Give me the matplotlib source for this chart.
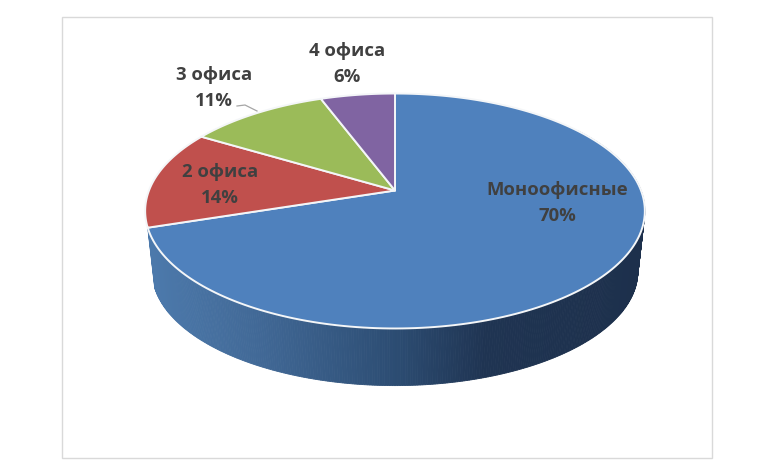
import numpy as np
import matplotlib
matplotlib.use("Agg")
import matplotlib.pyplot as plt
from matplotlib.patches import Polygon, Rectangle
from matplotlib.colors import LinearSegmentedColormap

categories = ["Моноофисные", "2 офиса", "3 офиса", "4 офиса"]
values = [70.0, 13.6, 10.7, 5.7]
percent_labels = ["70%", "14%", "11%", "6%"]
colors = ["#4F81BD", "#C0504D", "#9BBB59", "#8064A2"]
label_pos = [(557, 203), (220, 185), (214, 88), (347, 64)]

W, H = 780, 477
fig = plt.figure(figsize=(W / 100, H / 100), dpi=100, facecolor="white")
ax = fig.add_axes([0, 0, 1, 1])
ax.set_xlim(0, W)
ax.set_ylim(H, 0)
ax.axis("off")

ax.add_patch(Rectangle((61.5, 17.5), 650.5, 441.5, fc="white", ec="#D9D9D9", lw=1))

# perspective projection of a tilted disc; angle is clockwise from 12 o'clock
CX, CY, A, B, K = 395.0, 191.5, 246.0, 113.9, 0.1745
BOTTOM_SCALE, BOTTOM_CY = 0.972, 252.5


def project(deg, scale=1.0, cy=CY):
    t = np.radians(deg)
    u, v = np.sin(t), np.cos(t)
    d = 1 + K * v
    return CX + scale * A * u / d, cy - scale * B * v / d


side_cmap = LinearSegmentedColormap.from_list(
    "side", [(0.0, "#4C79AB"), (0.2, "#426A98"), (0.5, "#2C4C72"),
             (0.68, "#1F3452"), (1.0, "#1D304C")])

fractions = np.array(values) / np.sum(values)
edges = np.concatenate([[0], np.cumsum(fractions) * 360])

# outer wall of the pie, drawn as thin shaded strips
wall = np.arange(55, edges[1] + 0.01, 0.5)
for a0, a1 in zip(wall[:-1], wall[1:]):
    x0, y0 = project(a0)
    x1, y1 = project(a1)
    x2, y2 = project(a1, BOTTOM_SCALE, BOTTOM_CY)
    x3, y3 = project(a0, BOTTOM_SCALE, BOTTOM_CY)
    shade = np.clip(((x0 + x1) / 2 - 150) / 495, 0, 1)
    c = side_cmap(shade)
    ax.add_patch(Polygon([(x0, y0), (x1, y1), (x2, y2), (x3, y3)],
                         fc=c, ec=c, lw=0.6, zorder=2))

# top face
for i, color in enumerate(colors):
    ang = np.linspace(edges[i], edges[i + 1], 200)
    xs, ys = project(ang)
    pts = np.column_stack([np.r_[CX, xs], np.r_[CY, ys]])
    ax.add_patch(Polygon(pts, closed=True, fc=color, ec="#F4F6F8", lw=1.4,
                         joinstyle="round", zorder=3))

# labels
for name, pct, (x, y) in zip(categories, percent_labels, label_pos):
    ax.text(x, y, f"{name}\n{pct}", ha="center", va="center", family="Open Sans",
            fontweight="bold", fontsize=13.3, color="#404040", linespacing=1.6,
            zorder=5)

ax.plot([237, 245, 257], [107, 106, 112], color="#A6A6A6", lw=0.9, zorder=4)

fig.savefig("out.png", dpi=100, facecolor="white")
